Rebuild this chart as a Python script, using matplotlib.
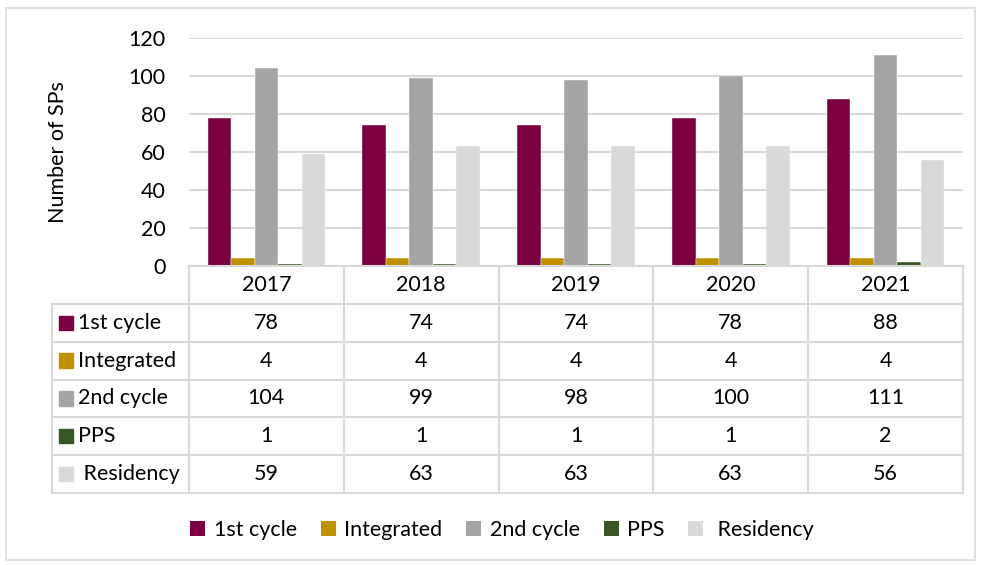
import numpy as np
import matplotlib.pyplot as plt
from matplotlib.patches import Patch, Rectangle

# data
years = ["2017", "2018", "2019", "2020", "2021"]
series = ["1st cycle", "Integrated", "2nd cycle", "PPS", " Residency"]
first_cycle = [78, 74, 74, 78, 88]
integrated = [4, 4, 4, 4, 4]
second_cycle = [104, 99, 98, 100, 111]
pps = [1, 1, 1, 1, 2]
residency = [59, 63, 63, 63, 56]

values = [first_cycle, integrated, second_cycle, pps, residency]
colors = ["#7b003f", "#bf9000", "#a5a5a5", "#375623", "#d9d9d9"]
grid_c = "#d9d9d9"

plt.rcParams["font.family"] = ["Lato", "DejaVu Sans"]
fs = 15.5

fig = plt.figure(figsize=(9.81, 5.65), dpi=100)
W, H = 981, 565

def fx(px):
    return px / W

def fy(py):
    return 1 - py / H

# outer border
fig.patches.append(Rectangle((fx(6), fy(560)), fx(969), 552 / H, transform=fig.transFigure,
                             fill=False, edgecolor=grid_c, lw=1.2))

# ---- bar chart ----
ax = fig.add_axes([fx(189), fy(266), fx(963) - fx(189), fy(38) - fy(266)])
n = len(years)
bw = 0.152
x = np.arange(n) + 0.5
for k, (name, vals, c) in enumerate(zip(series, values, colors)):
    ax.bar(x + (k - 2) * bw, vals, width=bw, color=c, edgecolor="white", linewidth=0.3, zorder=3)

ax.set_xlim(0, n)
ax.set_ylim(0, 120)
ax.set_yticks(range(0, 121, 20))
ax.set_xticks([])
ax.tick_params(axis="y", length=0, pad=17, labelsize=fs)
for s in ax.spines.values():
    s.set_visible(False)
for v in range(20, 121, 20):
    ax.axhline(v, color=grid_c, lw=1.5, zorder=1)
ax.set_ylabel("Number of SPs", fontsize=fs)
ax.yaxis.set_label_coords((68 - 189) / 774, 0.5)

# ---- data table ----
tab = fig.add_axes([fx(52), fy(493), fx(963) - fx(52), fy(266) - fy(493)])
lab_left = (52 - 189) / 154.8
tab.set_xlim(lab_left, n)
tab.set_ylim(6, 0)
tab.axis("off")
lw = 1.5
tab.plot([0, n], [0, 0], color=grid_c, lw=lw, clip_on=False)
for r in range(1, 7):
    tab.plot([lab_left, n], [r, r], color=grid_c, lw=lw, clip_on=False)
for c in range(n + 1):
    tab.plot([c, c], [0, 6], color=grid_c, lw=lw, clip_on=False)
tab.plot([lab_left, lab_left], [1, 6], color=grid_c, lw=lw, clip_on=False)

for i, yr in enumerate(years):
    tab.text(i + 0.5, 0.5, yr, ha="center", va="center", fontsize=fs)
sq = 14 / 154.8
for r, (name, vals, c) in enumerate(zip(series, values, colors)):
    yc = r + 1.5
    tab.add_patch(Rectangle(((59 - 189) / 154.8, yc - 0.19), sq, 0.38, color=c, clip_on=False))
    tab.text((78 - 189) / 154.8, yc, name, ha="left", va="center", fontsize=fs)
    for i, v in enumerate(vals):
        tab.text(i + 0.5, yc, str(v), ha="center", va="center", fontsize=fs)

# ---- legend ----
handles = [Patch(facecolor=c, label=s) for s, c in zip(series, colors)]
fig.legend(handles=handles, loc="center", bbox_to_anchor=(fx(502), fy(530)), ncol=5,
           frameon=False, fontsize=fs, handlelength=0.7, handleheight=0.7,
           handletextpad=0.4, columnspacing=1.1)

fig.savefig("out.png", dpi=100)
